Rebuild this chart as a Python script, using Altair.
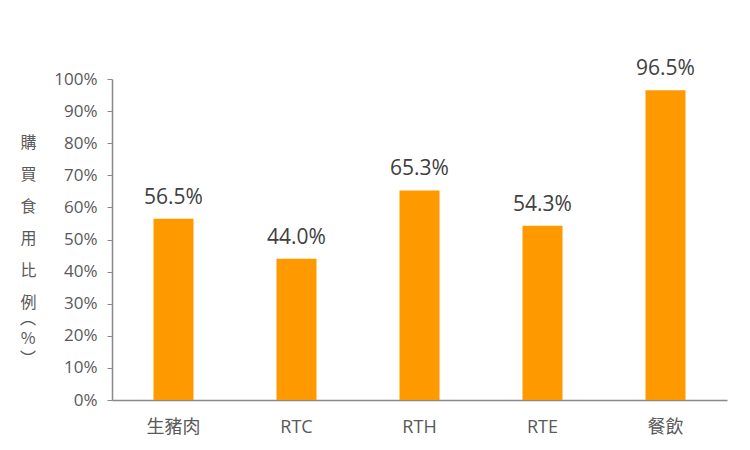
import altair as alt
import pandas as pd

categories = ["生豬肉", "RTC", "RTH", "RTE", "餐飲"]
values = [0.565, 0.440, 0.653, 0.543, 0.965]
labels = ["56.5%", "44.0%", "65.3%", "54.3%", "96.5%"]
y_ticks = [i / 10 for i in range(11)]
title_main = ["購", "買", "食", "用", "比", "例"]
title_tail = ["︵", "%", "︶"]

df = pd.DataFrame({"cat": categories, "val": values, "label": labels})

FONT = "Open Sans, Noto Sans CJK TC, sans-serif"
CJK = "Noto Sans CJK TC"

x = alt.X("cat:N", sort=categories,
          scale=alt.Scale(paddingInner=0, paddingOuter=0),
          axis=alt.Axis(title=None, labelAngle=0, ticks=False, labelPadding=18,
                        labelFontSize=18, labelColor="#595959", labelFont=FONT,
                        domainColor="#898989", domainWidth=1.5))
y = alt.Y("val:Q", scale=alt.Scale(domain=[0, 1], nice=False),
          axis=alt.Axis(values=y_ticks, format=".0%", grid=False,
                        labelOverlap=False,
                        labelFontSize=17, labelColor="#595959", labelFont=FONT,
                        labelPadding=10, tickSize=5, tickColor="#898989",
                        domainColor="#898989", domainWidth=1.5,
                        title=title_main, titleAngle=0, titleFont=CJK,
                        titleFontSize=16, titleFontWeight="normal",
                        titleColor="#595959", titleLineHeight=32,
                        titleX=-84, titleY=55, titleBaseline="top",
                        titleAlign="center"))

bars = alt.Chart(df).mark_bar(color="#FF9900", size=40).encode(x=x, y=y)
text = alt.Chart(df).mark_text(baseline="bottom", dy=-11, fontSize=21,
                               color="#404040", font=FONT).encode(
    x=x, y=y, text="label:N")
tail = alt.Chart(df.head(1)).mark_text(
    fontSize=16, color="#595959", font=CJK, lineHeight=20, baseline="middle",
    align="center").encode(x=alt.value(-84), y=alt.value(240),
                           text=alt.value(title_tail))

chart = alt.layer(bars, text, tail).properties(
    width=615, height=321,
    background="white",
    autosize=alt.AutoSizeParams(type="none"),
    padding={"left": 112, "top": 79, "right": 23, "bottom": 50},
).configure_view(strokeWidth=0, stroke=None)

chart.save("out.html", embed_options={"renderer": "svg", "actions": False})
